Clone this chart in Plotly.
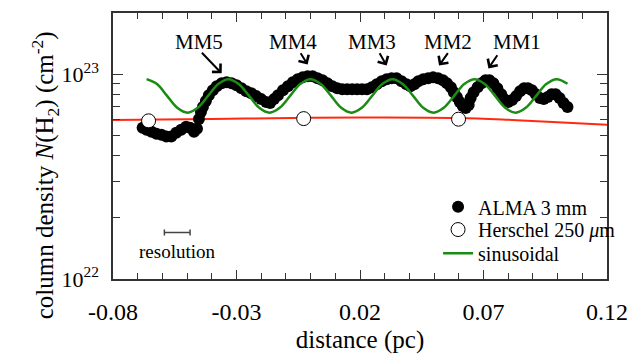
import plotly.graph_objects as go

# ALMA 3 mm column density profile (distance in pc, N in 1e22 cm^-2)
alma_x = [-0.068, -0.0664, -0.0644, -0.0624, -0.0604, -0.0584, -0.0564, -0.0544, -0.0524, -0.0504,
          -0.0488, -0.0472, -0.046, -0.0452, -0.0444, -0.0436, -0.0424, -0.0412, -0.0396, -0.038,
          -0.036, -0.034, -0.032, -0.030, -0.028, -0.026, -0.024, -0.022, -0.020, -0.018,
          -0.0164, -0.0148, -0.0132, -0.0112, -0.0092, -0.0072, -0.0052, -0.0032, -0.0012, 0.0008,
          0.0028, 0.0048, 0.0068, 0.0088, 0.0108, 0.0128, 0.0148, 0.0168, 0.0188, 0.0208,
          0.0228, 0.0248, 0.0268, 0.0288, 0.0308, 0.0328, 0.0348, 0.0368, 0.0388, 0.0404,
          0.042, 0.0436, 0.0456, 0.0476, 0.0496, 0.0516, 0.0536, 0.0552, 0.0568, 0.058,
          0.0592, 0.0604, 0.0616, 0.0628, 0.064, 0.0648, 0.066, 0.0676, 0.0692, 0.0708,
          0.0724, 0.074, 0.0756, 0.0772, 0.0784, 0.080, 0.0816, 0.0832, 0.0848, 0.0864,
          0.088, 0.0896, 0.0912, 0.0928, 0.0944, 0.096, 0.0976, 0.0992, 0.1008, 0.1024, 0.104]
alma_n = [5.49, 5.37, 5.25, 5.13, 5.075, 4.965, 4.965, 5.19, 5.37, 5.55,
          5.49, 5.25, 5.43, 6.06, 6.545, 6.92, 7.405, 7.915, 8.37, 8.75,
          9.05, 9.15, 9.05, 8.85, 8.56, 8.28, 8.095, 7.83, 7.57, 7.32,
          7.24, 7.57, 7.915, 8.37, 8.75, 9.15, 9.46, 9.67, 9.78, 9.78,
          9.565, 9.355, 9.05, 8.75, 8.56, 8.46, 8.46, 8.46, 8.46, 8.46,
          8.46, 8.655, 8.95, 9.25, 9.46, 9.565, 9.565, 9.25, 8.95, 8.75,
          8.95, 9.25, 9.46, 9.565, 9.67, 9.565, 9.355, 9.05, 8.655, 8.185,
          7.745, 7.32, 7.00, 6.845, 7.08, 7.66, 8.185, 8.655, 9.05, 9.355,
          9.355, 9.05, 8.56, 8.005, 7.57, 7.32, 7.49, 7.83, 8.28, 8.56,
          8.56, 8.37, 8.005, 7.66, 7.57, 7.745, 8.005, 8.005, 7.66, 7.24, 6.92]

# Herschel 250 um points
hers_x = [-0.0656, -0.0028, 0.0599]
hers_n = [5.93, 6.08, 6.04]

# Herschel profile (red curve)
red_x = [-0.08, -0.04, 0.0, 0.03, 0.06, 0.08, 0.10, 0.12]
red_n = [5.98, 6.06, 6.13, 6.16, 6.12, 6.00, 5.84, 5.67]

# sinusoidal model (green), sampled every 1/8 period
sin_x = [-0.0664, -0.0622, -0.0581, -0.0540, -0.0498, -0.0457, -0.0415, -0.0374,
         -0.0332, -0.0291, -0.0249, -0.0208, -0.0166, -0.0125, -0.0083, -0.0042,
         0.0000, 0.0041, 0.0083, 0.0124, 0.0166, 0.0207, 0.0249, 0.0290,
         0.0332, 0.0373, 0.0415, 0.0456, 0.0498, 0.0539, 0.0581, 0.0622,
         0.0664, 0.0705, 0.0747, 0.0788, 0.0830, 0.0871, 0.0913, 0.0954,
         0.0996, 0.1040]
sin_n = [9.48, 8.97, 7.85, 6.87, 6.50, 6.87, 7.85, 8.97,
         9.48, 8.97, 7.85, 6.87, 6.50, 6.87, 7.85, 8.97,
         9.48, 8.97, 7.85, 6.87, 6.50, 6.87, 7.85, 8.97,
         9.48, 8.97, 7.85, 6.87, 6.50, 6.87, 7.85, 8.97,
         9.48, 8.97, 7.85, 6.87, 6.50, 6.87, 7.85, 8.97,
         9.48, 9.00]

# core labels: name, label x, label log10(N), arrow tail (x, logN), arrow head (x, logN)
core_names = ["MM5", "MM4", "MM3", "MM2", "MM1"]
core_label_x = [-0.0452, -0.0072, 0.0248, 0.0556, 0.0836]
core_label_y = [23.159, 23.159, 23.159, 23.159, 23.159]
arrow_tail_x = [-0.0446, -0.0044, 0.0276, 0.0560, 0.0760]
arrow_tail_y = [23.113, 23.111, 23.111, 23.111, 23.101]
arrow_head_x = [-0.0360, -0.0012, 0.0308, 0.0520, 0.0720]
arrow_head_y = [23.005, 23.048, 23.043, 23.043, 23.029]

# resolution bar
res_center = -0.054
res_half = 0.0052
res_y = 1.687e22

x_ticks = [-0.08, -0.03, 0.02, 0.07, 0.12]
x_ticktext = ["-0.08", "-0.03", "0.02", "0.07", "0.12"]
y_ticks = [1e22, 1e23]
y_ticktext = ["10<sup>22</sup>", "10<sup>23</sup>"]
y_minor = [2e22, 3e22, 4e22, 5e22, 6e22, 7e22, 8e22, 9e22, 2e23]

FONT = "Liberation Serif, 'Times New Roman', Times, serif"
scale = 1e22

fig = go.Figure()

fig.add_trace(go.Scatter(x=red_x, y=[v * scale for v in red_n], mode="lines",
                         line=dict(color="#ff2a10", width=2, shape="spline"),
                         showlegend=False, hoverinfo="skip"))
fig.add_trace(go.Scatter(x=alma_x, y=[v * scale for v in alma_n], mode="markers",
                         marker=dict(color="black", size=12, line=dict(width=0)),
                         name="ALMA 3 mm", legend="legend"))
fig.add_trace(go.Scatter(x=sin_x, y=[v * scale for v in sin_n], mode="lines",
                         line=dict(color="#1a8c14", width=2.5, shape="spline"),
                         name="sinusoidal", legend="legend3"))
fig.add_trace(go.Scatter(x=hers_x, y=[v * scale for v in hers_n], mode="markers",
                         marker=dict(color="white", size=14, line=dict(color="black", width=1)),
                         name="Herschel 250 <i>μ</i>m", legend="legend2"))
fig.add_trace(go.Scatter(x=[res_center], y=[res_y], mode="markers",
                         marker=dict(size=1, color="rgba(0,0,0,0)"),
                         error_x=dict(type="constant", value=res_half, color="#444",
                                      thickness=1.5, width=3),
                         showlegend=False, hoverinfo="skip"))

annotations = []
for name, lx, ly in zip(core_names, core_label_x, core_label_y):
    annotations.append(dict(x=lx, y=ly, xref="x", yref="y", text=name, showarrow=False,
                            font=dict(family=FONT, size=21, color="black")))
for tx, ty, hx, hy in zip(arrow_tail_x, arrow_tail_y, arrow_head_x, arrow_head_y):
    annotations.append(dict(x=hx, y=hy, ax=tx, ay=ty, xref="x", yref="y", axref="x", ayref="y",
                            text="", showarrow=True, arrowhead=4, arrowsize=1.15,
                            arrowwidth=2, arrowcolor="black"))
annotations.append(dict(x=res_center, y=22.135, xref="x", yref="y", text="resolution",
                        showarrow=False, font=dict(family=FONT, size=19, color="black")))
annotations.append(dict(x=-0.178, y=0.5 - 29.5 / 269, xref="paper", yref="paper",
                        text="column density <i>N</i>(H<sub>2</sub>) (cm<sup>-2</sup>)",
                        textangle=-90, showarrow=False,
                        font=dict(family=FONT, size=25, color="black")))

leg_common = dict(x=0.658, xanchor="left", yanchor="middle",
                  font=dict(family=FONT, size=20, color="black"),
                  bgcolor="rgba(0,0,0,0)", itemwidth=30)

fig.update_layout(
    width=639, height=360,
    margin=dict(l=113, r=25, t=11, b=80),
    paper_bgcolor="white", plot_bgcolor="white",
    font=dict(family=FONT, size=24, color="black"),
    showlegend=True,
    legend=dict(y=0.2714, **leg_common),
    legend2=dict(y=0.1859, **leg_common),
    legend3=dict(y=0.0967, **leg_common),
    annotations=annotations,
)

fig.update_xaxes(
    range=[-0.08, 0.12], tickmode="array", tickvals=x_ticks, ticktext=x_ticktext,
    ticks="inside", ticklen=9, tickwidth=1.2, tickcolor="#333",
    showline=True, linecolor="#333", linewidth=1.5, mirror="ticks",
    showgrid=False, zeroline=False,
    minor=dict(dtick=0.01, tick0=-0.08, ticks="inside", ticklen=6, tickwidth=1.2, tickcolor="#333", showgrid=False),
    ticklabelstandoff=10,
    title=dict(text="distance (pc)", font=dict(family=FONT, size=25), standoff=7),
    tickfont=dict(family=FONT, size=24),
)
fig.update_yaxes(
    type="log", range=[22, 23.3], tickmode="array", tickvals=y_ticks, ticktext=y_ticktext,
    ticks="inside", ticklen=10, tickwidth=1.2, tickcolor="#333",
    showline=True, linecolor="#333", linewidth=1.5, mirror="ticks",
    showgrid=False, zeroline=False,
    minor=dict(tickmode="array", tickvals=y_minor, ticks="inside", ticklen=7, tickwidth=1.2, tickcolor="#333", showgrid=False),
    ticklabelstandoff=8,
    tickfont=dict(family=FONT, size=22),
)

fig.write_html("out.html")
